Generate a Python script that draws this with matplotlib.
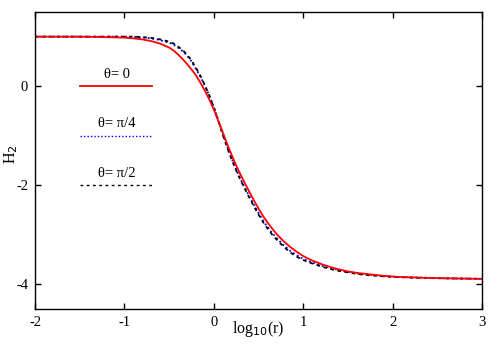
import matplotlib
matplotlib.use("Agg")
import matplotlib.pyplot as plt

# log10(r) sample positions
x_vals = [-2.0, -1.5, -1.2, -1.0, -0.9, -0.8, -0.7, -0.6, -0.5, -0.45, -0.4, -0.35,
          -0.3, -0.25, -0.2, -0.15, -0.1, -0.05, 0.0, 0.05, 0.1, 0.15, 0.2, 0.25,
          0.3, 0.35, 0.4, 0.45, 0.5, 0.55, 0.6, 0.65, 0.7, 0.775, 0.85, 0.925,
          1.0, 1.1, 1.2, 1.3, 1.4, 1.5, 1.6, 1.75, 1.9, 2.05, 2.2, 2.4, 2.6, 2.8, 3.0]

# H2 for theta = 0 (red, solid)
h2_theta0 = [1.0, 1.0, 0.99, 0.98, 0.965, 0.945, 0.91, 0.86, 0.78, 0.72, 0.64, 0.55,
             0.45, 0.34, 0.22, 0.07, -0.09, -0.27, -0.47, -0.70, -0.93, -1.17, -1.39,
             -1.60, -1.79, -1.97, -2.14, -2.31, -2.47, -2.62, -2.75, -2.87, -2.98,
             -3.12, -3.24, -3.34, -3.43, -3.52, -3.59, -3.65, -3.70, -3.74, -3.77,
             -3.80, -3.83, -3.85, -3.86, -3.87, -3.88, -3.885, -3.89]

# H2 for theta = pi/4 (blue, dotted)
h2_theta_pi4 = [1.0, 1.0, 1.0, 1.0, 0.995, 0.985, 0.965, 0.93, 0.88, 0.84, 0.78, 0.71,
                0.62, 0.50, 0.35, 0.19, 0.01, -0.19, -0.42, -0.68, -0.96, -1.22, -1.46,
                -1.68, -1.88, -2.06, -2.23, -2.40, -2.56, -2.71, -2.84, -2.96, -3.06,
                -3.20, -3.32, -3.41, -3.49, -3.56, -3.62, -3.67, -3.715, -3.75, -3.78,
                -3.81, -3.835, -3.85, -3.86, -3.87, -3.88, -3.885, -3.89]

# H2 for theta = pi/2 (black, dashed)
h2_theta_pi2 = [1.0, 1.0, 1.0, 1.0, 1.0, 0.99, 0.975, 0.945, 0.90, 0.86, 0.80, 0.73,
                0.64, 0.52, 0.37, 0.21, 0.02, -0.19, -0.43, -0.70, -0.98, -1.24, -1.48,
                -1.70, -1.90, -2.08, -2.26, -2.43, -2.59, -2.74, -2.87, -2.99, -3.09,
                -3.23, -3.35, -3.44, -3.51, -3.58, -3.64, -3.69, -3.73, -3.76, -3.79,
                -3.82, -3.84, -3.855, -3.865, -3.875, -3.88, -3.885, -3.89]

labels = ["θ= 0", "θ= π/4", "θ= π/2"]
x_ticks = [-2, -1, 0, 1, 2, 3]
y_ticks = [-4, -2, 0]

plt.rcParams['font.family'] = ['Liberation Serif', 'DejaVu Serif']
plt.rcParams['axes.unicode_minus'] = False

fig = plt.figure(figsize=(5, 3.5), dpi=100)
ax = fig.add_axes([0.07, 0.117, 0.894, 0.849])

styles = [
    dict(color="#0000ff", lw=1.3, linestyle=(0, (1, 1.5))),
    dict(color="#000000", lw=1.3, linestyle=(0, (2, 2))),
    dict(color="#ff0000", lw=1.3, linestyle="-"),
]
series = [h2_theta_pi4, h2_theta_pi2, h2_theta0]
for ys, st in zip(series, styles):
    ax.plot(x_vals, ys, **st)

# gnuplot-style key: text above a line sample
key_styles = [
    dict(color="#ff0000", lw=1.3, linestyle="-"),
    dict(color="#0000ff", lw=1.0, linestyle=(0, (1, 1.5))),
    dict(color="#000000", lw=1.0, linestyle=(0, (2, 2.5))),
]
key_y = [0.751, 0.584, 0.417]
for lab, st, ky in zip(labels, key_styles, key_y):
    ax.plot([0.10, 0.262], [ky, ky], transform=ax.transAxes, **st)
    ax.text(0.183, ky + 0.018, lab, transform=ax.transAxes, ha="center",
            va="bottom", fontsize=10.5)

ax.set_xlim(-2, 3)
ax.set_ylim(-4.5, 1.5)
ax.set_xticks(x_ticks)
ax.set_yticks(y_ticks)
ax.tick_params(direction="in", length=4, width=1, top=True, right=True,
               labelsize=10.5, pad=5)
for sp in ax.spines.values():
    sp.set_linewidth(1.0)

ax.set_xlabel("log$_{10}$(r)", fontsize=11.5)
ax.xaxis.set_label_coords(0.5, -0.035)
ax.xaxis.label.set_va("top")
ax.set_ylabel("H$_2$", fontsize=11.5)
ax.yaxis.set_label_coords(-0.054, 0.52)
ax.yaxis.label.set_va("center")

fig.savefig("out.png", dpi=100)
